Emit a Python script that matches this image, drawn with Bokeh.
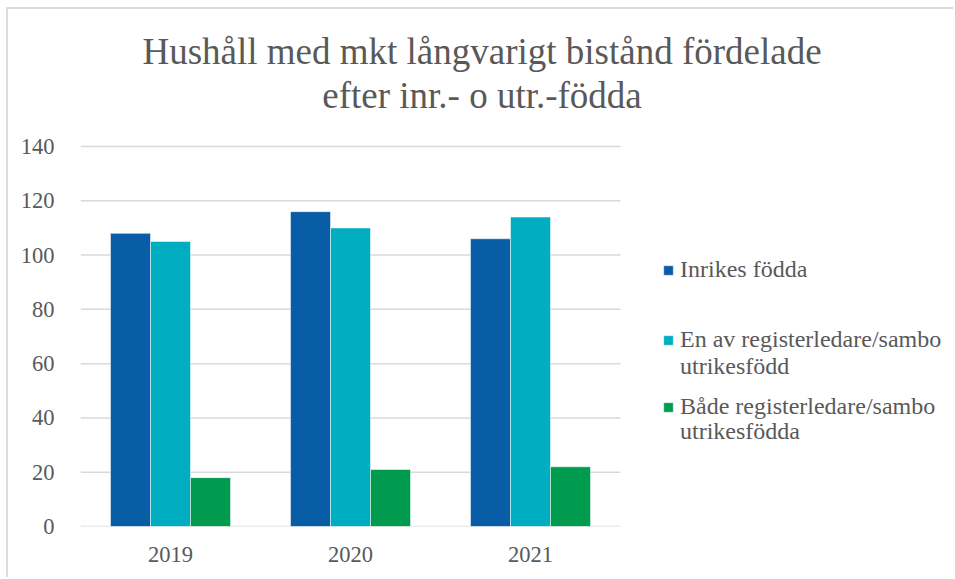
from bokeh.plotting import figure
from bokeh.models import Range1d, Legend, LegendItem, Label, ColumnDataSource, FixedTicker
from bokeh.transform import dodge
from bokeh.embed import file_html
from bokeh.resources import INLINE

# ---- data ----
years = ["2019", "2020", "2021"]
inrikes_fodda = [108, 116, 106]
en_av_utrikesfodd = [105, 110, 114]
bada_utrikesfodda = [18, 21, 22]
series_labels = ["Inrikes födda",
                 "En av registerledare/sambo\nutrikesfödd",
                 "Både registerledare/sambo\nutrikesfödda"]
y_ticks = [0, 20, 40, 60, 80, 100, 120, 140]
title_lines = ["Hushåll med mkt långvarigt bistånd fördelade",
               "efter inr.- o utr.-födda"]

# ---- style ----
FONT = "'Liberation Serif', 'Times New Roman', serif"
TEXT = "#595959"
GRID = "#d9d9d9"
colors = ["#085DA6", "#00ADC1", "#009B4F"]

xi = list(range(len(years)))
src = ColumnDataSource(dict(xi=xi, s0=inrikes_fodda, s1=en_av_utrikesfodd, s2=bada_utrikesfodda))

# layout (pixels)
W, H = 947, 570
ML, MR, MT, MB = 72, 10, 3, 53
frame_w = W - ML - MR
frame_h = H - MT - MB
px_per_cat = 180.0
px_per_unit = 380.0 / y_ticks[-1]

p = figure(x_range=Range1d(-0.5, -0.5 + frame_w / px_per_cat),
           y_range=Range1d(0, frame_h / px_per_unit),
           width=W, height=H, output_backend="svg", toolbar_location=None,
           min_border_left=ML, min_border_right=MR, min_border_top=MT, min_border_bottom=MB)
p.outline_line_color = None
p.styles = {"margin-left": "8px", "margin-top": "9px", "box-shadow": "-2px -2px 0 0 #dcdcdc"}

# gridlines limited to the plot area
p.segment(x0=[-0.5] * len(y_ticks), x1=[len(years) - 0.5] * len(y_ticks), y0=y_ticks, y1=y_ticks,
          line_color=GRID, line_width=1.5)

bw = 40 / px_per_cat
renderers = []
for i, key in enumerate(["s0", "s1", "s2"]):
    r = p.vbar(x=dodge("xi", (i - 1) * bw), top=key, width=bw, source=src,
               fill_color=colors[i], line_color="white", line_alpha=0.5, line_width=1)
    renderers.append(r)
blank = p.vbar(x=[], top=[], width=0.1, fill_alpha=0, line_alpha=0)

# axes
p.xgrid.grid_line_color = None
p.ygrid.grid_line_color = None
p.yaxis.ticker = FixedTicker(ticks=y_ticks)
p.yaxis.axis_line_color = None
p.yaxis.major_tick_line_color = None
p.yaxis.minor_tick_line_color = None
p.yaxis.major_label_standoff = 20
p.xaxis.ticker = FixedTicker(ticks=xi)
p.xaxis.major_label_overrides = {i: y for i, y in zip(xi, years)}
p.xaxis.axis_line_color = None
p.xaxis.major_tick_line_color = None
p.xaxis.minor_tick_line_color = None
p.xaxis.major_label_standoff = 14
for ax in (p.xaxis, p.yaxis):
    ax.major_label_text_font = FONT
    ax.major_label_text_font_size = "22.5px"
    ax.major_label_text_color = TEXT

# title
for line, y in zip(title_lines, [475, 431]):
    p.add_layout(Label(x=401.5, y=y, x_units="screen", y_units="screen", text=line,
                       text_align="center", text_baseline="alphabetic",
                       text_font=FONT, text_font_size="37px", text_color=TEXT))

# legend: one small legend per text line
legend_centers = [[256], [186, 159], [119, 94]]
for r, lab, centers in zip(renderers, series_labels, legend_centers):
    parts = lab.split("\n")
    for j, (txt, cy) in enumerate(zip(parts, centers)):
        leg = Legend(items=[LegendItem(label=txt, renderers=[r if j == 0 else blank])],
                     location=(582, cy - 13), padding=0, margin=0, spacing=0,
                     border_line_alpha=0, background_fill_alpha=0,
                     glyph_width=12, glyph_height=12, label_standoff=6,
                     label_text_font=FONT, label_text_font_size="24px", label_text_color=TEXT)
        p.add_layout(leg)

open("out.html", "w").write(file_html(p, INLINE))
